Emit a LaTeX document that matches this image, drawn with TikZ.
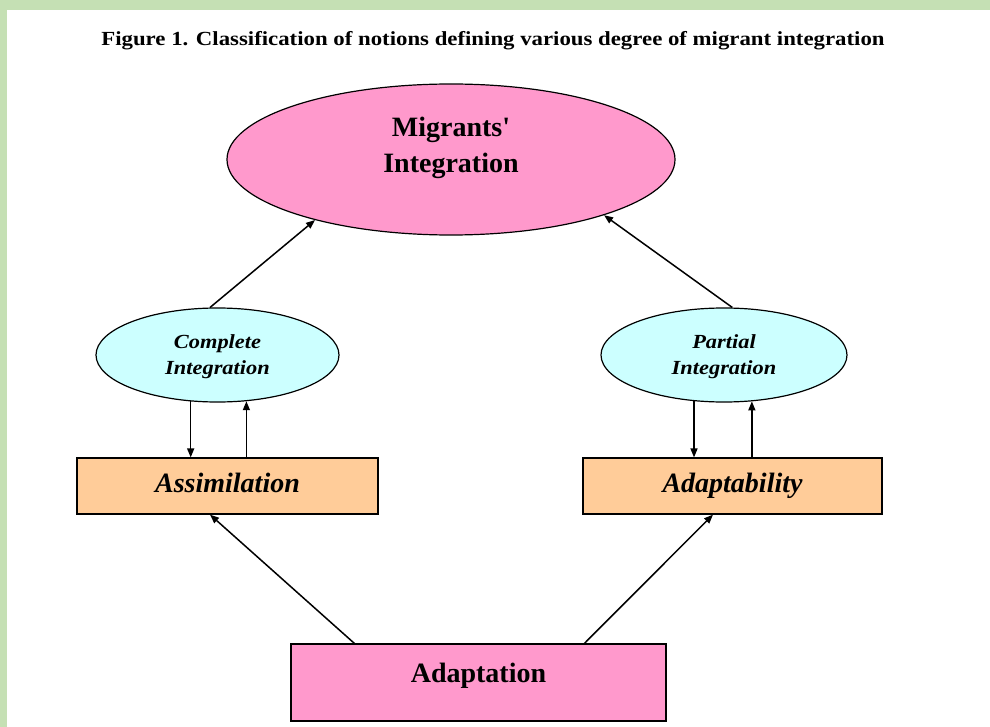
\documentclass[tikz,border=0pt]{standalone}
\usepackage{fontspec}
\setmainfont{Liberation Serif}
\usetikzlibrary{shapes.geometric,arrows.meta,calc}
\definecolor{bggreen}{HTML}{C5E0B4}
\definecolor{pinkfill}{HTML}{FF99CC}
\definecolor{cyanfill}{HTML}{CCFFFF}
\definecolor{orangefill}{HTML}{FFCC99}
\tikzset{
  bigell/.style={ellipse,draw=black,line width=1.2pt,fill=pinkfill,inner sep=0pt},
  smallell/.style={ellipse,draw=black,line width=1.2pt,fill=cyanfill,inner sep=0pt,minimum height=94pt,
    font=\bfseries\itshape\fontsize{20}{26}\selectfont},
  obox/.style={rectangle,draw=black,line width=1.2pt,fill=orangefill,inner sep=0pt,minimum height=56pt,
    font=\bfseries\itshape\fontsize{28}{30}\selectfont},
  pbox/.style={rectangle,draw=black,line width=1.2pt,fill=pinkfill,inner sep=0pt},
  arr/.style={line width=1.5pt,-{Triangle[length=9pt,width=7pt]}},
}
\begin{document}
\begin{tikzpicture}[x=1pt,y=-1pt]
\useasboundingbox (0,0) rectangle (990,727);
\fill[bggreen] (0,0) rectangle (990,727);
\fill[white] (7,10) rectangle (990,727);

\node[font=\bfseries\fontsize{20}{22}\selectfont,inner sep=0pt] (title) at (493,41)
  {\scalebox{1.14}[1]{Figure 1. Classification of notions defining various degree of migrant integration}};

\node[bigell,minimum width=448pt,minimum height=151pt,font=\bfseries\fontsize{28}{31}\selectfont] (mi) at (451,159.5)
  {\raisebox{-13.5pt}[0pt][0pt]{\begin{tabular}[b]{@{}c@{}}Migrants\textquotesingle\\[5pt]Integration\end{tabular}}};

\node[smallell,minimum width=243pt] (lc) at (217.5,355)
  {\raisebox{-19pt}[0pt][0pt]{\scalebox{1.12}[1]{\begin{tabular}[b]{@{}c@{}}Complete\\Integration\end{tabular}}}};
\node[smallell,minimum width=246pt] (rc) at (724,355)
  {\raisebox{-19pt}[0pt][0pt]{\scalebox{1.12}[1]{\begin{tabular}[b]{@{}c@{}}Partial\\Integration\end{tabular}}}};

\node[obox,minimum width=301pt] (as) at (227.5,486) {\raisebox{-6pt}[0pt][0pt]{Assimilation}};
\node[obox,minimum width=299pt] (ab) at (732.5,486) {\raisebox{-6pt}[0pt][0pt]{Adaptability}};

\node[pbox,minimum width=375pt,minimum height=77pt,font=\bfseries\fontsize{28}{30}\selectfont] (ad) at (478.5,682.5)
  {\raisebox{0.5pt}[0pt][0pt]{Adaptation}};

% upward arrows to the big ellipse
\draw[arr] (lc.99) -- (mi.204);
\draw[arr] (rc.80.5) -- (mi.340.6);

% between ellipses and boxes
\draw[arr] (lc.240) -- (lc.240 |- as.north);
\draw[arr] (lc.302 |- as.north) -- (lc.302);
\draw[arr] (rc.237.6) -- (rc.237.6 |- ab.north);
\draw[arr] (rc.301.4 |- ab.north) -- (rc.301.4);

% from Adaptation
\draw[arr] ($(ad.north west)+(64,0)$) -- ($(as.south)+(-17.5,0)$);
\draw[arr] ($(ad.north west)+(294,0)$) -- ($(ab.south)+(-19.5,0)$);
\end{tikzpicture}
\end{document}
